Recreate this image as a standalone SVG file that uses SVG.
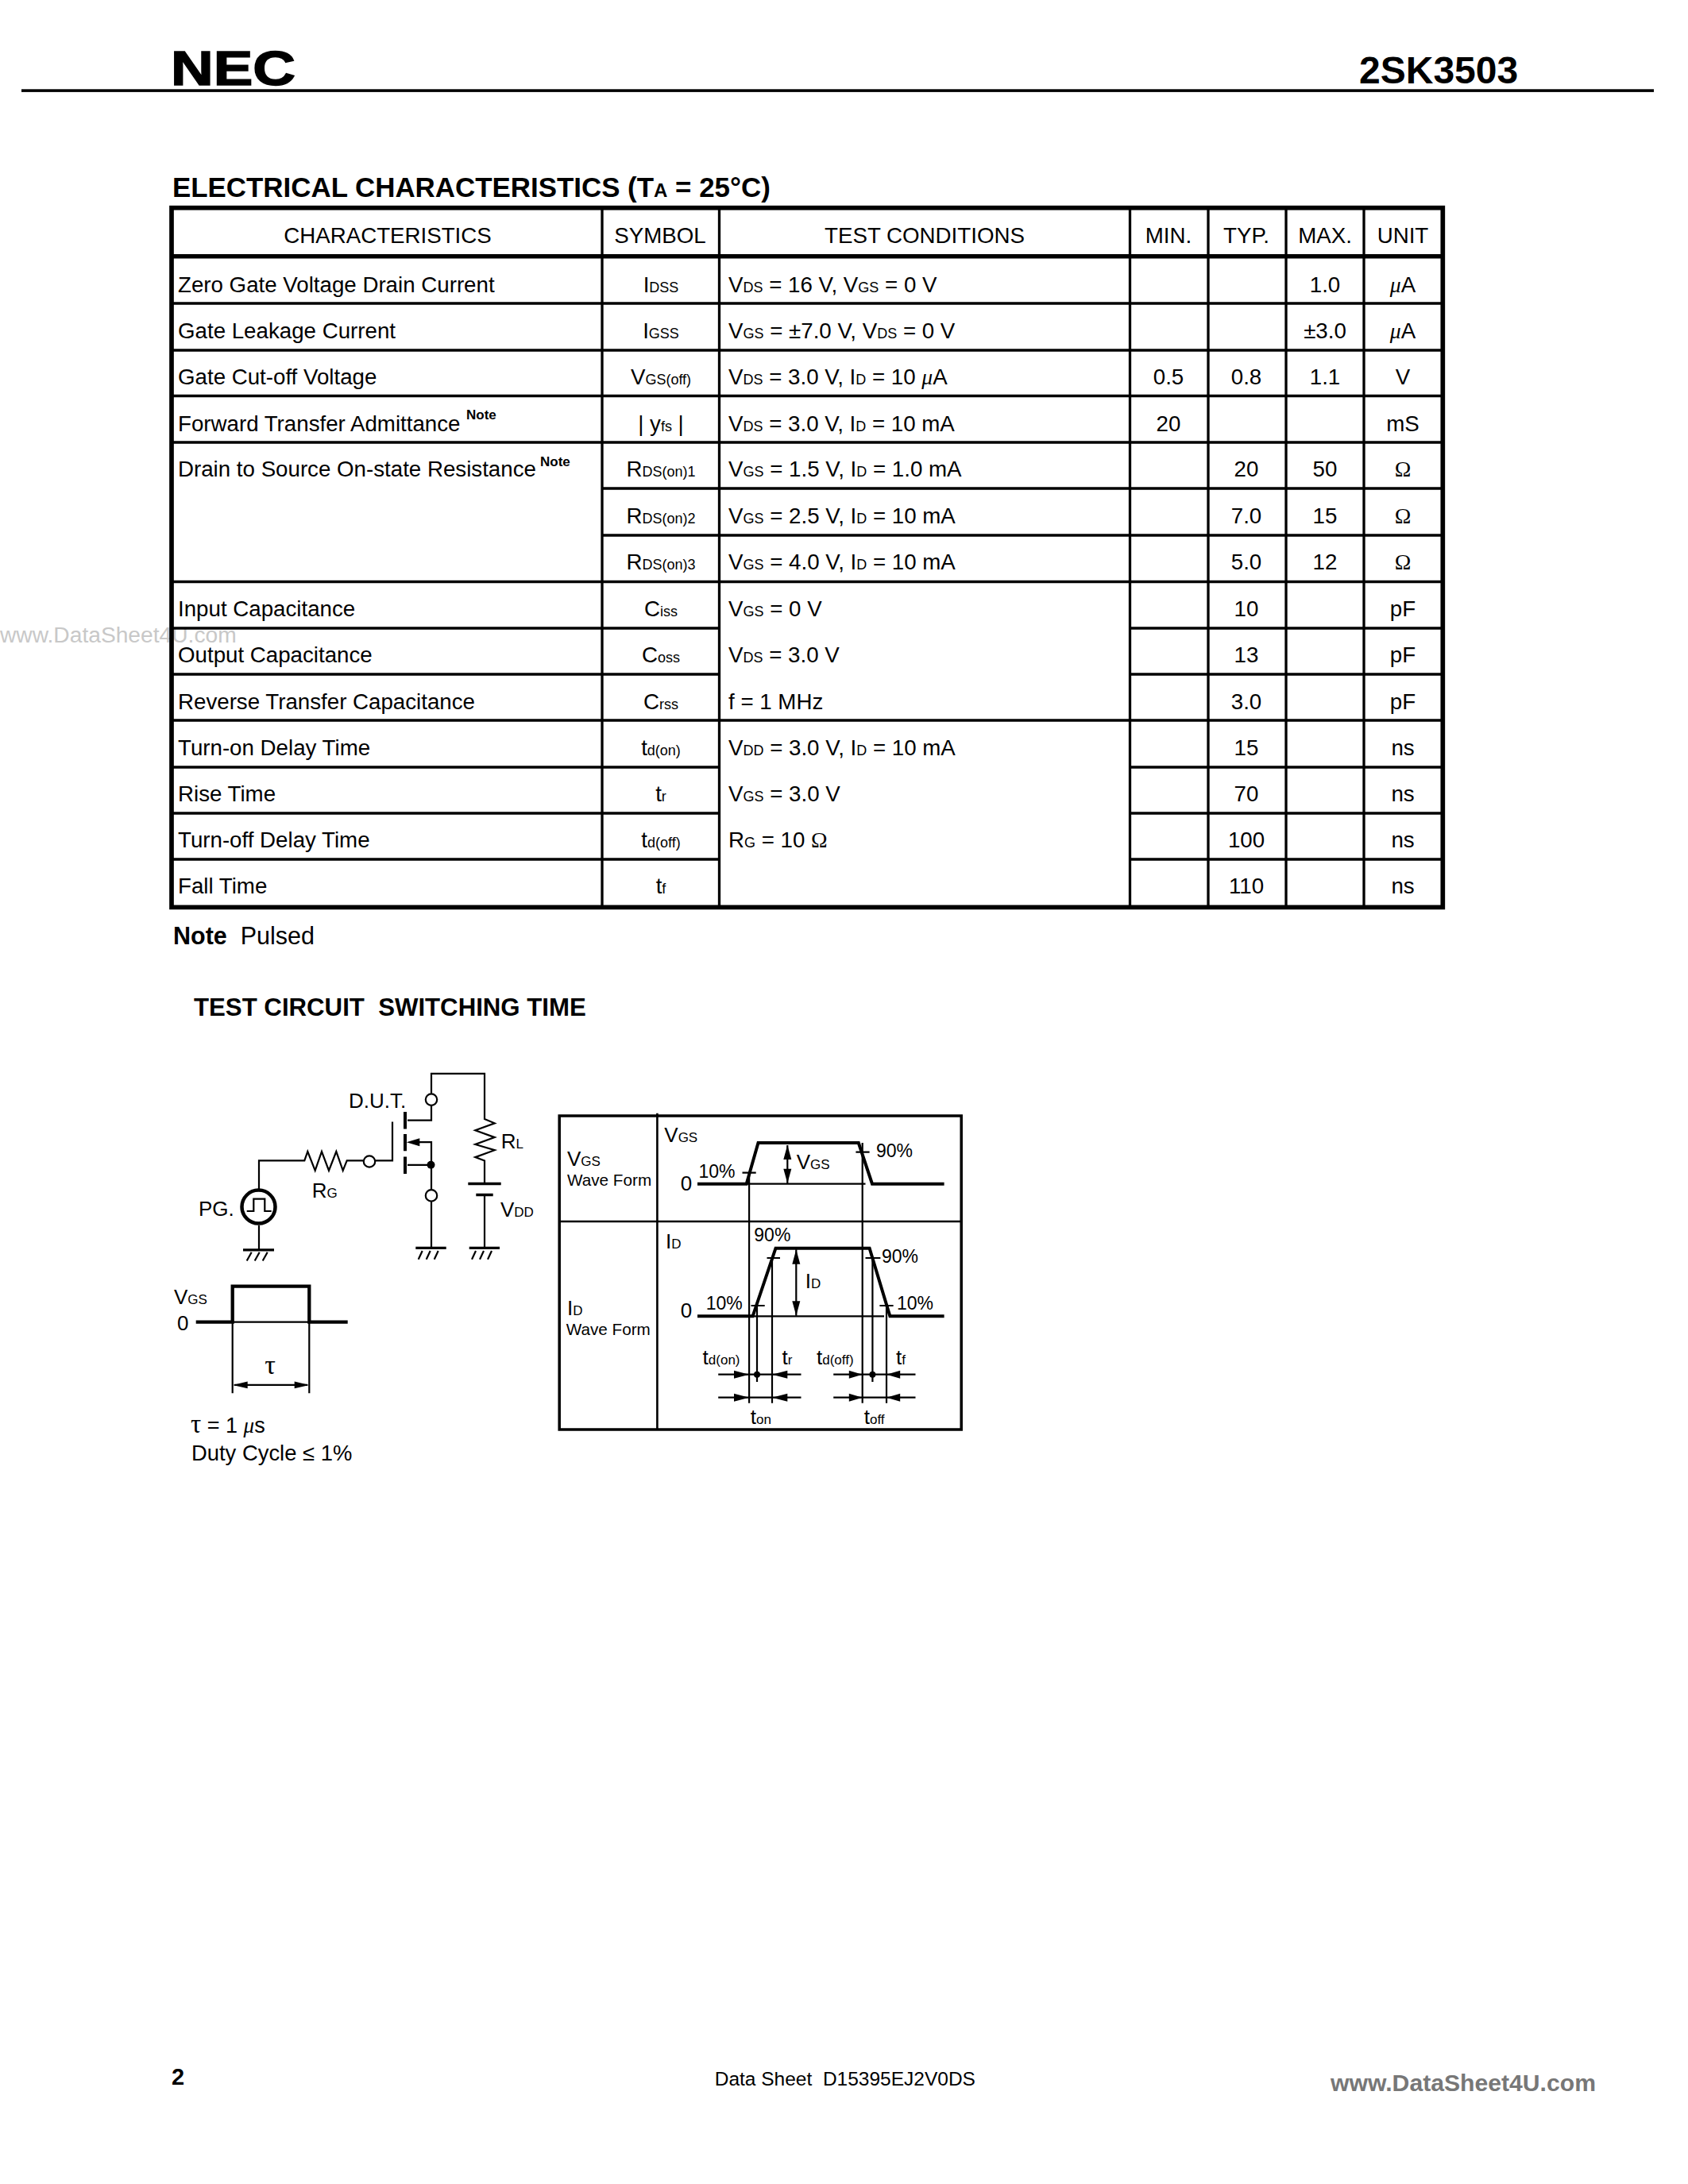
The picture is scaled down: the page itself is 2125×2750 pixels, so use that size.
<svg xmlns="http://www.w3.org/2000/svg" width="2125" height="2750" viewBox="0 0 2125 2750">
<style>
text{font-family:"Liberation Sans",Arial,sans-serif;fill:#000;white-space:pre}
.t{font-size:27.7px}
.c{font-size:27.7px;text-anchor:middle}
.b{font-weight:bold}
.s{font-size:18px}
.m{font-style:italic;font-family:"Liberation Serif",serif}
.o{font-family:"Liberation Serif",serif}
.n{font-size:17px;font-weight:bold}
.d{font-size:26px}
.w{font-size:20.7px}
.p{font-size:23px}
.u{font-size:17px}
.l{fill:none;stroke:#000;stroke-width:2.2}
.g{fill:none;stroke:#000;stroke-width:3.3}
.h{fill:none;stroke:#000;stroke-width:4;stroke-linejoin:miter}
.f{fill:#000;stroke:none}
.e{fill:#fff;stroke:#000;stroke-width:2.2}
</style>
<rect width="2125" height="2750" fill="#fff"/>
<text x="0" y="809" font-size="28.2" style="fill:#c8c8c8">www.DataSheet4U.com</text>
<g id="header">
<text x="215" y="107" font-size="61" class="b" textLength="157" lengthAdjust="spacingAndGlyphs" stroke="#000" stroke-width="1.5">NEC</text>
<text x="1711" y="105" font-size="48" class="b">2SK3503</text>
<rect x="27" y="112.3" width="2055" height="3.6"/>
</g>
<text id="title" x="217" y="248" font-size="34.9" class="b">ELECTRICAL CHARACTERISTICS (T<tspan font-size="24">A</tspan> = 25°C)</text>
<g id="table">
<rect x="216" y="261.7" width="1600.3" height="880.7" fill="none" stroke="#000" stroke-width="5.7"/>
<path class="g" d="M758 262V1142M905.5 262V1142M1422.5 262V1142M1521 262V1142M1619 262V1142M1717 262V1142"/>
<path d="M216 322.7H1816" fill="none" stroke="#000" stroke-width="5.5"/>
<path class="g" d="M216 382H1816M216 441H1816M216 498.5H1816M216 557H1816M758 615H1816M758 674H1816M216 732.5H1816M216 907H1816M216 791H905.5M1422.5 791H1816M216 849H905.5M1422.5 849H1816M216 966H905.5M1422.5 966H1816M216 1024H905.5M1422.5 1024H1816M216 1082H905.5M1422.5 1082H1816"/>
<g id="head">
<text class="c" x="488" y="306">CHARACTERISTICS</text>
<text class="c" x="831" y="306">SYMBOL</text>
<text class="c" x="1164" y="306">TEST CONDITIONS</text>
<text class="c" x="1471" y="306">MIN.</text>
<text class="c" x="1569" y="306">TYP.</text>
<text class="c" x="1668" y="306">MAX.</text>
<text class="c" x="1766" y="306">UNIT</text>
</g>
<g id="names">
<text class="t" x="224" y="367.6">Zero Gate Voltage Drain Current</text>
<text class="t" x="224" y="426">Gate Leakage Current</text>
<text class="t" x="224" y="484">Gate Cut-off Voltage</text>
<text class="t" x="224" y="542.5">Forward Transfer Admittance</text>
<text class="n" x="587" y="528">Note</text>
<text class="t" x="224" y="600">Drain to Source On-state Resistance</text>
<text class="n" x="680" y="586.5">Note</text>
<text class="t" x="224" y="776">Input Capacitance</text>
<text class="t" x="224" y="834">Output Capacitance</text>
<text class="t" x="224" y="893">Reverse Transfer Capacitance</text>
<text class="t" x="224" y="951">Turn-on Delay Time</text>
<text class="t" x="224" y="1009">Rise Time</text>
<text class="t" x="224" y="1067">Turn-off Delay Time</text>
<text class="t" x="224" y="1125">Fall Time</text>
</g>
<g id="symbols">
<text class="c" x="832" y="367.6">I<tspan class="s">DSS</tspan></text>
<text class="c" x="832" y="426">I<tspan class="s">GSS</tspan></text>
<text class="c" x="832" y="484">V<tspan class="s">GS(off)</tspan></text>
<text class="c" x="832" y="542.5">| y<tspan class="s">fs</tspan> |</text>
<text class="c" x="832" y="600">R<tspan class="s">DS(on)1</tspan></text>
<text class="c" x="832" y="659">R<tspan class="s">DS(on)2</tspan></text>
<text class="c" x="832" y="717">R<tspan class="s">DS(on)3</tspan></text>
<text class="c" x="832" y="776">C<tspan class="s">iss</tspan></text>
<text class="c" x="832" y="834">C<tspan class="s">oss</tspan></text>
<text class="c" x="832" y="893">C<tspan class="s">rss</tspan></text>
<text class="c" x="832" y="951">t<tspan class="s">d(on)</tspan></text>
<text class="c" x="832" y="1009">t<tspan class="s">r</tspan></text>
<text class="c" x="832" y="1067">t<tspan class="s">d(off)</tspan></text>
<text class="c" x="832" y="1125">t<tspan class="s">f</tspan></text>
</g>
<g id="conditions">
<text class="t" x="917" y="367.6">V<tspan class="s">DS</tspan> = 16 V, V<tspan class="s">GS</tspan> = 0 V</text>
<text class="t" x="917" y="426">V<tspan class="s">GS</tspan> = ±7.0 V, V<tspan class="s">DS</tspan> = 0 V</text>
<text class="t" x="917" y="484">V<tspan class="s">DS</tspan> = 3.0 V, I<tspan class="s">D</tspan> = 10 <tspan class="m">μ</tspan>A</text>
<text class="t" x="917" y="542.5">V<tspan class="s">DS</tspan> = 3.0 V, I<tspan class="s">D</tspan> = 10 mA</text>
<text class="t" x="917" y="600">V<tspan class="s">GS</tspan> = 1.5 V, I<tspan class="s">D</tspan> = 1.0 mA</text>
<text class="t" x="917" y="659">V<tspan class="s">GS</tspan> = 2.5 V, I<tspan class="s">D</tspan> = 10 mA</text>
<text class="t" x="917" y="717">V<tspan class="s">GS</tspan> = 4.0 V, I<tspan class="s">D</tspan> = 10 mA</text>
<text class="t" x="917" y="776">V<tspan class="s">GS</tspan> = 0 V</text>
<text class="t" x="917" y="834">V<tspan class="s">DS</tspan> = 3.0 V</text>
<text class="t" x="917" y="893">f = 1 MHz</text>
<text class="t" x="917" y="951">V<tspan class="s">DD</tspan> = 3.0 V, I<tspan class="s">D</tspan> = 10 mA</text>
<text class="t" x="917" y="1009">V<tspan class="s">GS</tspan> = 3.0 V</text>
<text class="t" x="917" y="1067">R<tspan class="s">G</tspan> = 10 <tspan class="o">Ω</tspan></text>
</g>
<g id="values">
<text class="c" x="1668" y="367.6">1.0</text><text class="c" x="1766" y="367.6"><tspan class="m">μ</tspan>A</text>
<text class="c" x="1668" y="426">±3.0</text><text class="c" x="1766" y="426"><tspan class="m">μ</tspan>A</text>
<text class="c" x="1471" y="484">0.5</text><text class="c" x="1569" y="484">0.8</text><text class="c" x="1668" y="484">1.1</text><text class="c" x="1766" y="484">V</text>
<text class="c" x="1471" y="542.5">20</text><text class="c" x="1766" y="542.5">mS</text>
<text class="c" x="1569" y="600">20</text><text class="c" x="1668" y="600">50</text><text class="c o" x="1766" y="600">Ω</text>
<text class="c" x="1569" y="659">7.0</text><text class="c" x="1668" y="659">15</text><text class="c o" x="1766" y="659">Ω</text>
<text class="c" x="1569" y="717">5.0</text><text class="c" x="1668" y="717">12</text><text class="c o" x="1766" y="717">Ω</text>
<text class="c" x="1569" y="776">10</text><text class="c" x="1766" y="776">pF</text>
<text class="c" x="1569" y="834">13</text><text class="c" x="1766" y="834">pF</text>
<text class="c" x="1569" y="893">3.0</text><text class="c" x="1766" y="893">pF</text>
<text class="c" x="1569" y="951">15</text><text class="c" x="1766" y="951">ns</text>
<text class="c" x="1569" y="1009">70</text><text class="c" x="1766" y="1009">ns</text>
<text class="c" x="1569" y="1067">100</text><text class="c" x="1766" y="1067">ns</text>
<text class="c" x="1569" y="1125">110</text><text class="c" x="1766" y="1125">ns</text>
</g>
</g>
<text id="note" x="218" y="1189" font-size="30.5"><tspan class="b">Note</tspan>  Pulsed</text>
<text id="subtitle" x="244" y="1279" font-size="31.2" class="b">TEST CIRCUIT  SWITCHING TIME</text>
<g id="circuit">
<g id="wires">
<path class="l" d="M543 1376.8V1351.8H610V1408.9L622.7 1414.3 598.3 1423.2 622.7 1432.1 598.3 1441 622.7 1448.2 598.3 1457.1 610 1461.4V1490.4M610 1504.6V1571.4"/>
<path class="l" d="M543 1392V1410.7H513M528 1438.2H543V1498.2M513 1466.8H543M543 1513.2V1571.4"/>
<path class="l" d="M494 1412.5V1461.4H471.7M458.3 1461.4H436.7L431.7 1473.9 423.3 1450 414 1473.9 405 1450 396.7 1473.9 387.3 1450 383.3 1461.4H326V1497M326 1543V1573.9"/>
</g>
<g id="fet">
<path d="M510 1400V1421.4M510 1427.9V1449.3M510 1456.4V1477.9" fill="none" stroke="#000" stroke-width="4"/>
<polygon class="f" points="511.7,1438.2 528.3,1433.2 528.3,1443.2"/>
<circle class="f" cx="542.5" cy="1466.8" r="5"/>
<circle class="e" cx="543" cy="1384.6" r="7.2"/>
<circle class="e" cx="543" cy="1505.4" r="7.2"/>
<circle class="e" cx="465" cy="1462.5" r="7.2"/>
</g>
<g id="battery">
<path d="M589.3 1490.4H630.7M599.3 1504.6H620.7" fill="none" stroke="#000" stroke-width="3.5"/>
</g>
<g id="grounds">
<path d="M306 1573.9H345M523.3 1571.4H561.7M590.7 1571.4H629" fill="none" stroke="#000" stroke-width="3.2"/>
<path class="l" d="M316.7 1576.8L310.7 1587.5M326.7 1576.8L320.7 1587.5M336.7 1576.8L330.7 1587.5M531.7 1575L526.7 1585.7M541.7 1575L536.7 1585.7M551.7 1575L546.7 1585.7M599 1575L594 1585.7M609 1575L604 1585.7M619 1575L614 1585.7"/>
</g>
<g id="pg">
<circle cx="325.5" cy="1519.6" r="21" fill="#fff" stroke="#000" stroke-width="4.5"/>
<path class="l" d="M310.7 1525H319.3V1509.6H333.3V1525H341.7"/>
</g>
<text class="d" x="250" y="1531.4">PG.</text>
<text class="d" x="439" y="1394.6">D.U.T.</text>
<text class="d" x="630.7" y="1445.7">R<tspan class="u">L</tspan></text>
<text class="d" x="392.7" y="1507.9">R<tspan class="u">G</tspan></text>
<text class="d" x="630" y="1532">V<tspan class="u">DD</tspan></text>
</g>
<g id="pulse">
<path d="M246.7 1664.6H292.7V1619.6H389.3V1664.6H437.7" fill="none" stroke="#000" stroke-width="4.3"/>
<path class="l" d="M292.7 1664.6V1754.3M389.3 1664.6V1754.3M292.7 1664.6H389.3M295 1743.9H387"/>
<polygon class="f" points="293,1743.9 311.7,1739.6 311.7,1748.2"/>
<polygon class="f" points="389.3,1743.9 370.7,1739.6 370.7,1748.2"/>
<text class="d" x="219" y="1642">V<tspan class="u">GS</tspan></text>
<text class="d" x="223" y="1675">0</text>
<text class="o" font-size="34" x="340" y="1729.6" text-anchor="middle">τ</text>
<text x="240" y="1803.6" font-size="27"><tspan class="o" font-size="33">τ</tspan> = 1 <tspan class="m">μ</tspan>s</text>
<text x="241" y="1838.6" font-size="27.4">Duty Cycle ≤ 1%</text>
</g>
<g id="waveforms">
<rect x="704.2" y="1405" width="506" height="395" fill="none" stroke="#000" stroke-width="3.5"/>
<path d="M827.4 1401.7V1800M704 1538H1210" fill="none" stroke="#000" stroke-width="2.6"/>
<path class="h" d="M878 1490.7H939.7L954.5 1439H1080.8L1098 1490.7H1188.6"/>
<path class="h" d="M878 1657.3H947.6L976.5 1571.7H1094.6L1120.4 1657.3H1188.6"/>
<path class="l" d="M939.7 1490.7H1089.5M947.6 1657.3H1113M934.5 1476.7H951.7M1077.4 1450.7H1094.6M965.5 1584H982M945.5 1644H962.7M1089.5 1584H1108.4M1107.4 1644H1124.6"/>
<path class="l" d="M943.1 1476.7V1766.7M1085.7 1439V1766.7M953 1644V1740M972 1584V1766.7M1098.4 1584V1740M1116 1644V1766.7"/>
<path class="l" d="M991.3 1442V1490M1002.3 1573.3V1656.7M904.2 1730.7H1008.5M904.2 1759.7H1008.5M1049.2 1730.7H1152.5M1049.2 1759.7H1152.5"/>
<g id="arrows">
<polygon class="f" points="991.3,1441.7 986.3,1460 996.3,1460"/>
<polygon class="f" points="991.3,1490 986.3,1471.7 996.3,1471.7"/>
<polygon class="f" points="1002.3,1573.3 997.3,1591.7 1007.3,1591.7"/>
<polygon class="f" points="1002.3,1656.7 997.3,1638.3 1007.3,1638.3"/>
<polygon class="f" points="943,1730.7 924,1725.7 924,1735.7"/>
<polygon class="f" points="972,1730.7 991.3,1725.7 991.3,1735.7"/>
<polygon class="f" points="943,1759.7 924,1754.7 924,1764.7"/>
<polygon class="f" points="972,1759.7 991.3,1754.7 991.3,1764.7"/>
<polygon class="f" points="1085.7,1730.7 1068.8,1725.7 1068.8,1735.7"/>
<polygon class="f" points="1116,1730.7 1133.2,1725.7 1133.2,1735.7"/>
<polygon class="f" points="1085.7,1759.7 1068.8,1754.7 1068.8,1764.7"/>
<polygon class="f" points="1116,1759.7 1133.2,1754.7 1133.2,1764.7"/>
<circle class="f" cx="953" cy="1730.7" r="4"/>
<circle class="f" cx="1098.4" cy="1730.7" r="4"/>
</g>
<text class="d" x="714" y="1468">V<tspan class="u">GS</tspan></text>
<text class="w" x="714" y="1493">Wave Form</text>
<text class="d" x="714" y="1656">I<tspan class="u">D</tspan></text>
<text class="w" x="712.7" y="1681">Wave Form</text>
<text class="d" x="836.3" y="1438.3">V<tspan class="u">GS</tspan></text>
<text class="d" x="838" y="1571.7">I<tspan class="u">D</tspan></text>
<text class="d" x="856.7" y="1499">0</text>
<text class="d" x="856.7" y="1659.3">0</text>
<text class="p" x="879.4" y="1483.3">10%</text>
<text class="p" x="1103" y="1456.7">90%</text>
<text class="d" x="1002.7" y="1471.7">V<tspan class="u">GS</tspan></text>
<text class="p" x="949.3" y="1563.3">90%</text>
<text class="d" x="1013.7" y="1621.7">I<tspan class="u">D</tspan></text>
<text class="p" x="1110" y="1590">90%</text>
<text class="p" x="888.7" y="1649.3">10%</text>
<text class="p" x="1129" y="1649.3">10%</text>
<text class="d" x="884.6" y="1718.3">t<tspan class="u">d(on)</tspan></text>
<text class="d" x="984.4" y="1718.3">t<tspan class="u">r</tspan></text>
<text class="d" x="1028" y="1718.3">t<tspan class="u">d(off)</tspan></text>
<text class="d" x="1128" y="1718.3">t<tspan class="u">f</tspan></text>
<text class="d" x="944.8" y="1792.7">t<tspan class="u">on</tspan></text>
<text class="d" x="1087.7" y="1792.7">t<tspan class="u">off</tspan></text>
</g>
<g id="footer">
<text x="216" y="2625" font-size="29" class="b">2</text>
<text x="899.7" y="2626" font-size="24.5">Data Sheet  D15395EJ2V0DS</text>
<text x="1675" y="2633" font-size="30" class="b" textLength="334" lengthAdjust="spacingAndGlyphs" style="fill:#777">www.DataSheet4U.com</text>
</g>
</svg>
